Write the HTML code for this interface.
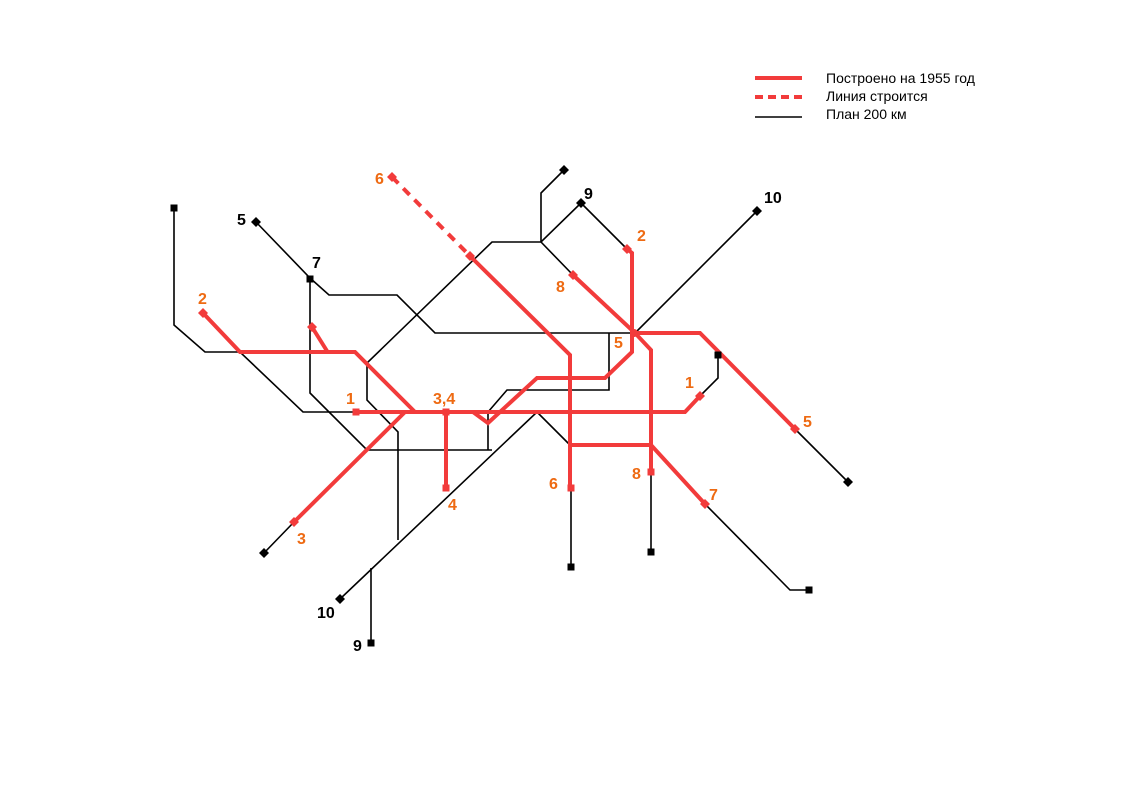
<!DOCTYPE html>
<html><head><meta charset="utf-8"><style>
html,body{margin:0;padding:0;background:#fff;}
svg{display:block;}
.b{fill:none;stroke:#000;stroke-width:1.6;stroke-linejoin:miter}
.r{fill:none;stroke:#f23b3b;stroke-width:4;stroke-linejoin:miter}
.o{font-family:"Liberation Sans",sans-serif;font-weight:bold;font-size:16px;fill:#ee6a12}
.k{font-family:"Liberation Sans",sans-serif;font-weight:bold;font-size:16px;fill:#000}
.l{font-family:"Liberation Sans",sans-serif;font-size:14px;fill:#000}
</style></head><body>
<svg width="1123" height="794" viewBox="0 0 1123 794">
<!-- black lines -->
<path class="b" d="M174,208 V325 L205,352 H240 L303,412 H357"/>
<path class="b" d="M256,222 L310,278 L329,295 H397 L435,333 H635"/>
<path class="b" d="M310,279 V393 L367,450 H492"/>
<path class="b" d="M340,599 L537,412 L570,445"/>
<path class="b" d="M371,643 V568"/>
<path class="b" d="M398,540 V432 L367,400 V363 L492,242 H541 L581,203"/>
<path class="b" d="M541,242 V193 L564,170"/>
<path class="b" d="M541,242 L573,275"/>
<path class="b" d="M581,203 L627,249"/>
<path class="b" d="M488,450 V412 L507,390 H609 V333"/>
<path class="b" d="M718,355 V378 L700,396"/>
<path class="b" d="M795,429 L848,482"/>
<path class="b" d="M635,333 L757,211"/>
<path class="b" d="M571,488 V567"/>
<path class="b" d="M651,472 V552"/>
<path class="b" d="M705,504 L790,590 H809"/>
<path class="b" d="M294,522 L264,553"/>
<!-- red lines -->
<path class="r" d="M356,412 H685 L700,396"/>
<path class="r" d="M203,313 L240,352 H355 L415,412"/>
<path class="r" d="M327,351 L312,327"/>
<path class="r" d="M473,412 L488,423 L537,378 H605 L632,352 V253 L627,249"/>
<path class="r" d="M294,522 L405,412"/>
<path class="r" d="M446,412 V488"/>
<path class="r" d="M635,333 H700 L795,429"/>
<path class="r" d="M392,177 L470,256" stroke-dasharray="9,7"/>
<path class="r" d="M470,256 L570,355 V488"/>
<path class="r" d="M573,275 L635,333 L651,350 V472"/>
<path class="r" d="M570,445 H651 L705,504"/>
<!-- black markers -->
<g fill="#000">
<rect x="170.5" y="204.5" width="7" height="7"/>
<rect x="306.5" y="275.5" width="7" height="7"/>
<rect x="714.5" y="351.5" width="7" height="7"/>
<rect x="567.5" y="563.5" width="7" height="7"/>
<rect x="647.5" y="548.5" width="7" height="7"/>
<rect x="805.5" y="586.5" width="7" height="7"/>
<rect x="367.5" y="639.5" width="7" height="7"/>
<path d="M256,217 l5,5 -5,5 -5,-5z"/>
<path d="M564,165 l5,5 -5,5 -5,-5z"/>
<path d="M581,198 l5,5 -5,5 -5,-5z"/>
<path d="M757,206 l5,5 -5,5 -5,-5z"/>
<path d="M848,477 l5,5 -5,5 -5,-5z"/>
<path d="M264,548 l5,5 -5,5 -5,-5z"/>
<path d="M340,594 l5,5 -5,5 -5,-5z"/>
</g>
<!-- red markers -->
<g fill="#f23b3b">
<rect x="352.5" y="408.5" width="7" height="7"/>
<rect x="442.5" y="408.5" width="7" height="7"/>
<rect x="442.5" y="484.5" width="7" height="7"/>
<rect x="567.5" y="484.5" width="7" height="7"/>
<rect x="647.5" y="468.5" width="7" height="7"/>
<circle cx="634" cy="333" r="4"/>
<path d="M392,172 l5,5 -5,5 -5,-5z"/>
<path d="M470,251 l5,5 -5,5 -5,-5z"/>
<path d="M203,308 l5,5 -5,5 -5,-5z"/>
<path d="M312,322 l5,5 -5,5 -5,-5z"/>
<path d="M627,244 l5,5 -5,5 -5,-5z"/>
<path d="M573,270 l5,5 -5,5 -5,-5z"/>
<path d="M700,391 l5,5 -5,5 -5,-5z"/>
<path d="M795,424 l5,5 -5,5 -5,-5z"/>
<path d="M294,517 l5,5 -5,5 -5,-5z"/>
<path d="M705,499 l5,5 -5,5 -5,-5z"/>
</g>
<!-- labels -->
<text class="o" x="375" y="184">6</text>
<text class="o" x="198" y="304">2</text>
<text class="o" x="346" y="404">1</text>
<text class="o" x="433" y="404">3,4</text>
<text class="o" x="556" y="292">8</text>
<text class="o" x="637" y="241">2</text>
<text class="o" x="614" y="348">5</text>
<text class="o" x="685" y="388">1</text>
<text class="o" x="803" y="427">5</text>
<text class="o" x="297" y="544">3</text>
<text class="o" x="448" y="510">4</text>
<text class="o" x="549" y="489">6</text>
<text class="o" x="632" y="479">8</text>
<text class="o" x="709" y="500">7</text>
<text class="k" x="237" y="225">5</text>
<text class="k" x="312" y="268">7</text>
<text class="k" x="584" y="199">9</text>
<text class="k" x="764" y="203">10</text>
<text class="k" x="317" y="618">10</text>
<text class="k" x="353" y="651">9</text>
<!-- legend -->
<line x1="755" y1="78" x2="802" y2="78" stroke="#f23b3b" stroke-width="4"/>
<line x1="755" y1="97" x2="802" y2="97" stroke="#f23b3b" stroke-width="4" stroke-dasharray="8,5"/>
<line x1="755" y1="117" x2="802" y2="117" stroke="#000" stroke-width="1.6"/>
<text class="l" x="826" y="83">Построено на 1955 год</text>
<text class="l" x="826" y="101">Линия строится</text>
<text class="l" x="826" y="119">План 200 км</text>
</svg>
</body></html>
